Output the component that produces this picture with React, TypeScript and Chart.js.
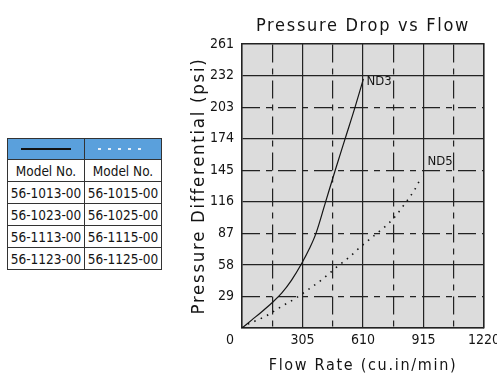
import React, { useEffect, useRef } from 'react';
import { Chart, registerables } from 'chart.js';

Chart.register(...registerables);

const FONT = "'Liberation Sans Narrow', 'DejaVu Sans Condensed', sans-serif";

// ---- chart text ----
const chartTitle = 'Pressure Drop vs Flow';
const xAxisTitle = 'Flow Rate (cu.in/min)';
const yAxisTitle = 'Pressure Differential (psi)';
const seriesNames = ['ND3', 'ND5'];

// ---- axes ----
const xMin = 0;
const xMax = 1220;
const xStep = 305;
const yMin = 0;
const yMax = 261;
const yStep = 29;

// ---- series ----
const nd3Flow = [0, 50, 100, 150, 200, 250, 300, 340, 373, 420, 470, 520, 570, 612];
const nd3Pressure = [0, 7.5, 15, 23, 32, 44, 59, 73, 87, 115, 145, 174, 203, 229];

const nd5Flow = [0, 24, 74, 121, 192, 267, 343, 410, 477, 540, 600, 660, 720, 770, 820, 870, 905];
const nd5Pressure = [0, 3, 7, 11, 19, 27, 36.5, 45.5, 56, 65, 75, 84, 93, 102, 114, 127, 139];

// ---- table ----
const tableHeader = ['Model No.', 'Model No.'];
const solidModels = ['56-1013-00', '56-1023-00', '56-1113-00', '56-1123-00'];
const dottedModels = ['56-1015-00', '56-1025-00', '56-1115-00', '56-1125-00'];

const INK = '#141414';
const GRID = '#222222';
const TRANSPARENT = 'rgba(0,0,0,0)';
const DASH = [18, 6, 6, 6];

const decorPlugin = {
  id: 'decor',
  beforeDraw(chart: any) {
    const { ctx, chartArea } = chart;
    ctx.save();
    ctx.fillStyle = '#DCDCDC';
    ctx.fillRect(chartArea.left, chartArea.top, chartArea.right - chartArea.left, chartArea.bottom - chartArea.top);
    ctx.restore();
    (ctx as any).letterSpacing = '1.7px';
  },
  afterDatasetsDraw(chart: any) {
    (chart.ctx as any).letterSpacing = '0px';
  },
  afterDraw(chart: any) {
    const { ctx, chartArea, scales } = chart;
    const xs = scales.x;
    const ys = scales.y;
    ctx.save();
    (ctx as any).letterSpacing = '0px';
    ctx.fillStyle = INK;
    ctx.font = `14px ${FONT}`;
    ctx.textAlign = 'center';
    ctx.textBaseline = 'middle';
    ctx.fillText(String(xMin), xs.getPixelForValue(xMin) - 12, chartArea.bottom + 12);

    ctx.font = `13px ${FONT}`;
    ctx.textAlign = 'left';
    const n3 = nd3Flow.length - 1;
    ctx.fillText(seriesNames[0], xs.getPixelForValue(nd3Flow[n3]) + 3, ys.getPixelForValue(nd3Pressure[n3]) + 3);
    const n5 = nd5Flow.length - 1;
    ctx.fillText(seriesNames[1], xs.getPixelForValue(nd5Flow[n5]) + 6, ys.getPixelForValue(nd5Pressure[n5]) - 15);
    ctx.restore();
    (ctx as any).letterSpacing = '0px';
  },
};

function ChartCanvas() {
  const ref = useRef<HTMLCanvasElement | null>(null);
  useEffect(() => {
    if (!ref.current) return;
    const tickFont = { family: FONT, size: 14 };
    const chart = new Chart(ref.current, {
      type: 'scatter',
      data: {
        datasets: [
          {
            label: seriesNames[0],
            data: nd3Flow.map((x, i) => ({ x, y: nd3Pressure[i] })),
            showLine: true,
            borderColor: INK,
            borderWidth: 1.2,
            pointRadius: 0,
            cubicInterpolationMode: 'monotone',
            fill: false,
          },
          {
            label: seriesNames[1],
            data: nd5Flow.map((x, i) => ({ x, y: nd5Pressure[i] })),
            showLine: true,
            borderColor: INK,
            borderWidth: 1.6,
            borderDash: [1.5, 5.5],
            pointRadius: 0,
            cubicInterpolationMode: 'monotone',
            fill: false,
          },
        ],
      },
      options: {
        responsive: false,
        animation: false,
        devicePixelRatio: 1,
        layout: { padding: { left: 0, right: 26, top: 0, bottom: 0 } },
        plugins: {
          legend: { display: false },
          tooltip: { enabled: false },
          title: {
            display: true,
            text: chartTitle,
            fullSize: false,
            color: INK,
            font: { family: FONT, size: 18, weight: 'normal' },
            padding: { top: 15.2, bottom: 7.2 },
          },
        },
        scales: {
          x: {
            type: 'linear',
            position: 'bottom',
            min: xMin,
            max: xMax,
            afterFit: (s: any) => {
              s.height = 57;
            },
            ticks: {
              stepSize: xStep,
              callback: (v: any) => (v === xMin ? '' : String(v)),
              color: INK,
              font: tickFont,
              padding: 3.6,
              maxRotation: 0,
              minRotation: 0,
              autoSkip: false,
              z: 1,
            },
            grid: { color: GRID, lineWidth: 1.2, drawTicks: false },
            border: { display: true, color: GRID, width: 1.5 },
            title: {
              display: true,
              text: xAxisTitle,
              color: INK,
              font: { family: FONT, size: 16 },
              padding: { top: 6, bottom: 9.4 },
            },
          },
          x2: {
            type: 'linear',
            position: 'top',
            min: xMin,
            max: xMax,
            ticks: { display: false, stepSize: xStep / 2 },
            grid: {
              color: (c: any) => (c.index % 2 === 1 ? GRID : TRANSPARENT),
              lineWidth: 1.2,
              drawTicks: false,
            },
            border: { display: true, color: GRID, width: 1.5, dash: DASH },
          },
          y: {
            type: 'linear',
            position: 'left',
            min: yMin,
            max: yMax,
            afterFit: (s: any) => {
              s.width = 72;
            },
            ticks: {
              stepSize: yStep,
              callback: (v: any) => (v === yMin ? '' : String(v)),
              color: INK,
              font: tickFont,
              padding: 8,
              autoSkip: false,
              z: 1,
            },
            grid: {
              color: (c: any) => (c.index % 2 === 0 ? GRID : TRANSPARENT),
              lineWidth: 1.2,
              drawTicks: false,
            },
            border: { display: true, color: GRID, width: 1.5 },
            title: {
              display: true,
              text: yAxisTitle,
              color: INK,
              font: { family: FONT, size: 18.5 },
              padding: { top: 18, bottom: 0 },
            },
          },
          y2: {
            type: 'linear',
            position: 'right',
            min: yMin,
            max: yMax,
            ticks: { display: false, stepSize: yStep },
            grid: {
              color: (c: any) => (c.index % 2 === 1 && c.index < 9 ? GRID : TRANSPARENT),
              lineWidth: 1.2,
              drawTicks: false,
            },
            border: { display: true, color: GRID, width: 1.5, dash: DASH },
          },
        },
      } as any,
      plugins: [decorPlugin],
    });
    return () => chart.destroy();
  }, []);
  return (
    <canvas
      ref={ref}
      width={340}
      height={385}
      style={{ position: 'absolute', left: 170, top: 0, width: 340, height: 385 }}
    />
  );
}

const cellStyle: React.CSSProperties = {
  border: '1px solid #333',
  height: 21,
  padding: 0,
  textAlign: 'center',
  verticalAlign: 'middle',
  fontFamily: FONT,
  fontSize: 13.5,
  letterSpacing: '0px',
  whiteSpace: 'nowrap',
  overflow: 'hidden',
  color: INK,
  background: '#ffffff',
  lineHeight: '16px',
};

const headStyle: React.CSSProperties = {
  ...cellStyle,
  background: '#5AA0DC',
  height: 20,
};

export default function App() {
  return (
    <div
      style={{
        position: 'fixed',
        left: 0,
        top: 0,
        width: 497,
        height: 385,
        overflow: 'hidden',
        background: '#ffffff',
      }}
    >
      <table
        style={{
          position: 'absolute',
          left: 7,
          top: 138,
          width: 155,
          borderCollapse: 'collapse',
          tableLayout: 'fixed',
          border: '1.5px solid #222',
        }}
      >
        <tbody>
          <tr>
            <td style={headStyle}>
              <div style={{ width: 50, height: 2, margin: '0 auto', background: '#111' }} />
            </td>
            <td style={headStyle}>
              <div
                style={{
                  width: 50,
                  height: 2,
                  margin: '0 auto',
                  background: 'repeating-linear-gradient(to right, #e6f0fa 0 3px, rgba(0,0,0,0) 3px 10px)',
                }}
              />
            </td>
          </tr>
          <tr>
            {tableHeader.map((h, i) => (
              <td key={i} style={cellStyle}>{h}</td>
            ))}
          </tr>
          {solidModels.map((m, i) => (
            <tr key={m}>
              <td style={cellStyle}>{m}</td>
              <td style={cellStyle}>{dottedModels[i]}</td>
            </tr>
          ))}
        </tbody>
      </table>
      <ChartCanvas />
    </div>
  );
}
